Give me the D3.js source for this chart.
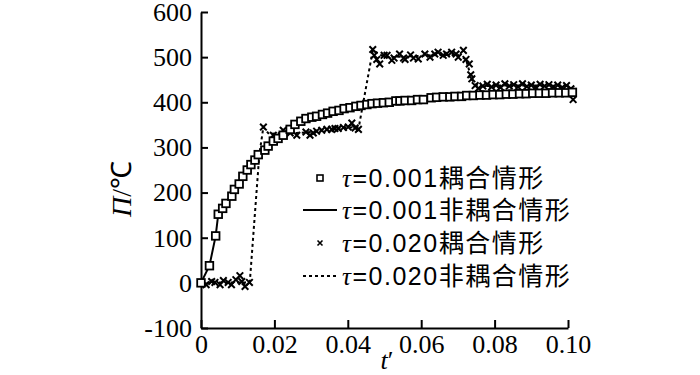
<!DOCTYPE html>
<html>
<head>
<meta charset="utf-8">
<script src="https://cdn.jsdelivr.net/npm/d3@7"></script>
<style>
  body { margin: 0; background: #fff; }
  .axis path, .axis line { stroke: #000; stroke-width: 2; }
</style>
</head>
<body>
<svg id="chart" width="700" height="375"></svg>
<script>
const SERIF = "'Liberation Serif', 'Times New Roman', serif";

// ticks
const xTicks = [0, 0.02, 0.04, 0.06, 0.08, 0.10];
const xTickLabels = ["0", "0.02", "0.04", "0.06", "0.08", "0.10"];
const yTicks = [-100, 0, 100, 200, 300, 400, 500, 600];
const yTickLabels = ["-100", "0", "100", "200", "300", "400", "500", "600"];

// tau = 0.001, coupled (squares)
const sqT = [0, 0.0023, 0.0040, 0.0047, 0.0059, 0.0068, 0.0084, 0.0091, 0.0104, 0.0114,
  0.0126, 0.0136, 0.0147, 0.0156, 0.0174, 0.0183, 0.0197, 0.0210, 0.0224, 0.0243,
  0.0256, 0.0272, 0.0286, 0.0302, 0.0315, 0.0331, 0.0345, 0.0360, 0.0376, 0.0390,
  0.0406, 0.0422, 0.0436, 0.0452, 0.0466, 0.0481, 0.0497, 0.0513, 0.0531, 0.0542,
  0.0556, 0.0574, 0.0590, 0.0606, 0.0627, 0.0642, 0.0660, 0.0678, 0.0692, 0.0710,
  0.0724, 0.0742, 0.0760, 0.0778, 0.0796, 0.0814, 0.0832, 0.0850, 0.0868, 0.0886,
  0.0904, 0.0922, 0.0940, 0.0958, 0.0976, 0.0994, 0.1012];
const sqV = [0, 38, 104, 152, 165, 176, 192, 207, 219, 236,
  250, 262, 272, 284, 294, 303, 314, 320, 327, 340,
  351, 358, 364, 367, 369, 373, 376, 380, 382, 386,
  388, 391, 393, 395, 397, 398, 399, 400, 403, 403,
  404, 404, 406, 406, 410, 411, 412, 412, 413, 413,
  415, 415, 416, 416, 417, 417, 418, 418, 419, 419,
  420, 420, 420, 421, 421, 421, 422];

// tau = 0.001, uncoupled (solid line)
const lineT = [0, 0.0023, 0.0040, 0.0047, 0.0070, 0.0100, 0.0130, 0.0160, 0.0200, 0.0250,
  0.0300, 0.0350, 0.0400, 0.0450, 0.0500, 0.0550, 0.0600, 0.0650, 0.0700, 0.0750,
  0.0800, 0.0850, 0.0900, 0.0950, 0.1012];
const lineV = [0, 38, 104, 152, 180, 216, 256, 286, 316, 348,
  366, 378, 388, 395, 400, 404, 406, 411, 413, 415,
  417, 418, 420, 421, 422];

// tau = 0.020, coupled (crosses)
const xsT = [0.0014, 0.0029, 0.0038, 0.0052, 0.0061, 0.0074, 0.0083, 0.0095, 0.0106, 0.0111,
  0.0120, 0.0132, 0.0170, 0.0197, 0.0224, 0.0243, 0.0261, 0.0286, 0.0297, 0.0306,
  0.0315, 0.0329, 0.0343, 0.0356, 0.0365, 0.0374, 0.0388, 0.0401, 0.0411, 0.0420,
  0.0429, 0.0468, 0.0472, 0.0479, 0.0487, 0.0499, 0.0507, 0.0520, 0.0526, 0.0541,
  0.0552, 0.0556, 0.0571, 0.0579, 0.0592, 0.0610, 0.0624, 0.0637, 0.0646, 0.0660,
  0.0669, 0.0683, 0.0695, 0.0701, 0.0715, 0.0722, 0.0731, 0.0735, 0.0738, 0.0747,
  0.0756, 0.0768, 0.0780, 0.0792, 0.0804, 0.0816, 0.0828, 0.0840, 0.0852, 0.0864,
  0.0876, 0.0888, 0.0900, 0.0912, 0.0924, 0.0936, 0.0948, 0.0960, 0.0972, 0.0984,
  0.0996, 0.1008, 0.1014];
const xsV = [-4, 3, 1, -4, 5, 1, -4, 7, 16, 3,
  -8, 1, 345, 327, 338, 332, 327, 334, 327, 332,
  336, 338, 340, 340, 342, 342, 344, 345, 354, 343,
  340, 517, 504, 495, 485, 504, 504, 493, 498, 507,
  498, 495, 505, 498, 496, 507, 500, 507, 511, 504,
  507, 511, 507, 500, 515, 495, 485, 461, 452, 437,
  431, 436, 440, 434, 438, 433, 441, 436, 439, 434,
  441, 435, 438, 433, 440, 436, 439, 434, 438, 433,
  437, 430, 406];

// tau = 0.020, uncoupled (dotted line)
const dotT = [0, 0.0040, 0.0080, 0.0120, 0.0133, 0.0159, 0.0170, 0.0185, 0.0220, 0.0260,
  0.0300, 0.0350, 0.0400, 0.0430, 0.0468, 0.0500, 0.0550, 0.0600, 0.0650, 0.0700,
  0.0722, 0.0738, 0.0756, 0.0800, 0.0850, 0.0900, 0.0950, 0.1000, 0.1014];
const dotV = [0, 1, 1, 1, 2, 285, 345, 330, 332, 332,
  334, 340, 344, 345, 515, 500, 501, 503, 505, 505,
  495, 450, 435, 437, 437, 437, 437, 436, 420];

const legendLabels = ["0.001耦合情形", "0.001非耦合情形", "0.020耦合情形", "0.020非耦合情形"];

const svg = d3.select("#chart");

const x = d3.scaleLinear().domain([0, 0.1]).range([201, 568]);
const y = d3.scaleLinear().domain([-100, 600]).range([328, 12]);

const zip = (a, b) => a.map((t, i) => [t, b[i]]);

// axes
const gx = svg.append("g")
  .attr("class", "axis")
  .attr("transform", "translate(0," + y(-100) + ")")
  .call(d3.axisBottom(x).tickValues(xTicks).tickSize(-8).tickSizeOuter(0).tickPadding(7)
    .tickFormat((d, i) => xTickLabels[i]));

const gy = svg.append("g")
  .attr("class", "axis")
  .attr("transform", "translate(" + x(0) + ",0)")
  .call(d3.axisLeft(y).tickValues(yTicks).tickSize(-7).tickSizeOuter(0).tickPadding(9)
    .tickFormat((d, i) => yTickLabels[i]));

[gx, gy].forEach(g => g.selectAll("text")
  .style("font-family", SERIF)
  .style("font-size", "26px")
  .attr("fill", "#000"));

const line = d3.line().x(d => x(d[0])).y(d => y(d[1]));

// solid line
svg.append("path")
  .datum(zip(lineT, lineV))
  .attr("d", line)
  .attr("fill", "none")
  .attr("stroke", "#000")
  .attr("stroke-width", 2);

// dotted line
svg.append("path")
  .datum(zip(dotT, dotV))
  .attr("d", line)
  .attr("fill", "none")
  .attr("stroke", "#000")
  .attr("stroke-width", 2)
  .attr("stroke-dasharray", "3,3");

// crosses
const cross = (cx, cy, r) => `M${cx - r},${cy - r}L${cx + r},${cy + r}M${cx - r},${cy + r}L${cx + r},${cy - r}`;
svg.append("g").selectAll("path")
  .data(zip(xsT, xsV))
  .enter().append("path")
  .attr("d", d => cross(x(d[0]), y(d[1]), 3.3))
  .attr("stroke", "#000")
  .attr("stroke-width", 2);

// squares
svg.append("g").selectAll("rect")
  .data(zip(sqT, sqV))
  .enter().append("rect")
  .attr("x", d => x(d[0]) - 3.8)
  .attr("y", d => y(d[1]) - 3.8)
  .attr("width", 7.6)
  .attr("height", 7.6)
  .attr("fill", "#fff")
  .attr("stroke", "#000")
  .attr("stroke-width", 1.8);

// legend
const legY = [178, 210, 243, 276];
const leg = svg.append("g");
leg.append("rect").attr("x", 317).attr("y", legY[0] - 3).attr("width", 6).attr("height", 6)
  .attr("fill", "#fff").attr("stroke", "#000").attr("stroke-width", 1.6);
leg.append("line").attr("x1", 303).attr("x2", 337).attr("y1", legY[1]).attr("y2", legY[1])
  .attr("stroke", "#000").attr("stroke-width", 2);
leg.append("path").attr("d", cross(320, legY[2], 2.5)).attr("stroke", "#000").attr("stroke-width", 1.6);
leg.append("line").attr("x1", 303).attr("x2", 337).attr("y1", legY[3]).attr("y2", legY[3])
  .attr("stroke", "#000").attr("stroke-width", 2).attr("stroke-dasharray", "3,3");

legendLabels.forEach((lab, i) => {
  const t = leg.append("text")
    .attr("x", 342)
    .attr("y", legY[i])
    .attr("dy", "0.35em")
    .style("font-size", "25px")
    .style("letter-spacing", "1.5px")
    .style("font-family", "'Noto Sans CJK SC', sans-serif");
  t.append("tspan").style("font-family", SERIF).style("font-style", "italic").text("τ");
  t.append("tspan").style("font-family", "'Liberation Sans', sans-serif").text("=" + lab.slice(0, 5));
  t.append("tspan").text(lab.slice(5));
});

// axis titles
const yl = svg.append("text")
  .attr("transform", "translate(121,189) rotate(-90)")
  .attr("text-anchor", "middle")
  .attr("dy", "0.35em")
  .style("font-family", SERIF)
  .style("font-size", "28px");
yl.append("tspan").style("font-style", "italic").text("Π");
yl.append("tspan").text("/℃");

const xl = svg.append("text")
  .attr("x", 387)
  .attr("y", 369)
  .attr("text-anchor", "middle")
  .style("font-family", SERIF)
  .style("font-size", "26px");
xl.append("tspan").style("font-style", "italic").text("t");
xl.append("tspan").text("′");
</script>
</body>
</html>
